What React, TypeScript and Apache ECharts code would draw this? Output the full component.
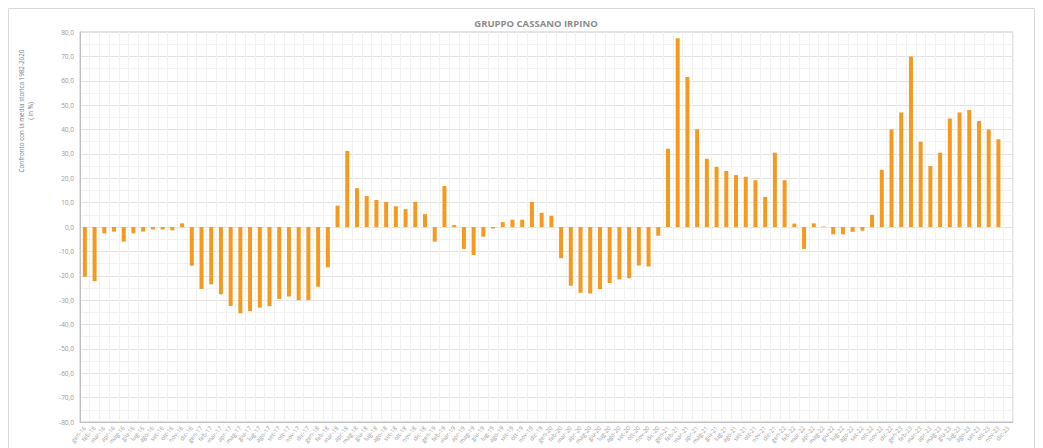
import React, { useEffect, useRef } from "react";
import * as echarts from "echarts";

const monthNames = ["gen", "feb", "mar", "apr", "mag", "giu", "lug", "ago", "set", "ott", "nov", "dic"];
const years = ["16", "17", "18", "19", "20", "21", "22", "23"];
const categories: string[] = [];
years.forEach((y) => monthNames.forEach((m) => categories.push(`${m}-${y}`)));

const values2016 = [-20.4, -22.2, -2.6, -1.9, -6.0, -2.6, -1.9, -1.0, -1.0, -1.4, 1.5, -15.9];
const values2017 = [-25.4, -23.5, -27.6, -32.4, -35.4, -34.5, -33.1, -32.5, -29.5, -28.5, -30.0, -30.0];
const values2018 = [-24.5, -16.5, 8.8, 31.2, 15.9, 12.7, 11.1, 10.3, 8.5, 7.3, 10.3, 5.3];
const values2019 = [-6.0, 16.8, 0.8, -9.0, -11.5, -4.0, -0.6, 2.0, 3.0, 3.0, 10.3, 5.8];
const values2020 = [4.6, -12.8, -24.1, -27.0, -27.3, -25.5, -23.0, -21.5, -21.0, -15.8, -16.2, -3.6];
const values2021 = [32.1, 77.4, 61.5, 40.1, 28.0, 24.7, 23.0, 21.3, 20.6, 19.2, 12.3, 30.5];
const values2022 = [19.2, 1.4, -9.0, 1.5, 0.2, -3.0, -3.0, -2.0, -1.5, 5.0, 23.5, 40.0];
const values2023 = [47.0, 70.0, 35.0, 25.0, 30.5, 44.5, 47.0, 48.0, 43.5, 40.0, 36.0, null];

const values = [
  ...values2016, ...values2017, ...values2018, ...values2019,
  ...values2020, ...values2021, ...values2022, ...values2023,
];

const yTicks = { min: -80, max: 80, interval: 10 };

export default function App() {
  const ref = useRef<HTMLDivElement>(null);
  useEffect(() => {
    if (!ref.current) return;
    const chart = echarts.init(ref.current, undefined, { renderer: "svg" });
    chart.setOption({
      animation: false,
      backgroundColor: "#ffffff",
      title: {
        text: "GRUPPO CASSANO IRPINO",
        left: 523,
        top: 5,
        textAlign: "center",
        textStyle: {
          fontFamily: "Open Sans",
          fontSize: 9.5,
          fontWeight: "bold",
          color: "#8c8c8c",
        },
      },
      grid: {
        left: 72,
        right: 22,
        top: 24,
        bottom: 26,
        show: true,
        borderColor: "#c8c8c8",
        borderWidth: 1,
      },
      xAxis: {
        type: "category",
        data: categories,
        boundaryGap: true,
        axisLine: { onZero: false, lineStyle: { color: "#bfbfbf" } },
        axisTick: { show: false },
        splitLine: { show: true, interval: 0, lineStyle: { color: "#f1f1f1", width: 1 } },
        axisLabel: {
          interval: 0,
          rotate: 50,
          fontSize: 6,
          color: "#9a9a9a",
          fontFamily: "Open Sans",
          margin: 5,
        },
      },
      yAxis: {
        type: "value",
        min: yTicks.min,
        max: yTicks.max,
        interval: yTicks.interval,
        axisLine: { show: true, lineStyle: { color: "#bfbfbf" } },
        axisTick: { show: false },
        axisLabel: {
          fontSize: 6.5,
          color: "#999999",
          fontFamily: "Open Sans",
          margin: 6,
          formatter: (v: number) => v.toFixed(1).replace(".", ","),
        },
        splitLine: { show: true, lineStyle: { color: "#e2e2e2", width: 1 } },
        minorTick: { show: false, splitNumber: 2 },
        minorSplitLine: { show: true, lineStyle: { color: "#f2f2f2", width: 1 } },
      },
      series: [
        {
          type: "bar",
          data: values,
          barWidth: 4,
          itemStyle: { color: "#F59A1E" },
        },
      ],
      graphic: [
        {
          type: "rect",
          shape: { x: 0.5, y: 0.5, width: 1026, height: 470 },
          style: { fill: "none", stroke: "#d9d9d9", lineWidth: 1 },
          silent: true,
        },
        {
          type: "text",
          x: 18,
          y: 103,
          rotation: Math.PI / 2,
          style: {
            text: "Confronto con la media storica 1982-2020\n( in %)",
            fontSize: 6.3,
            fontFamily: "Open Sans",
            fill: "#808080",
            align: "center",
            verticalAlign: "middle",
            lineHeight: 9,
          },
        },
      ],
    });
    return () => chart.dispose();
  }, []);
  return <div ref={ref} style={{ width: 1027, height: 440 }} />;
}
